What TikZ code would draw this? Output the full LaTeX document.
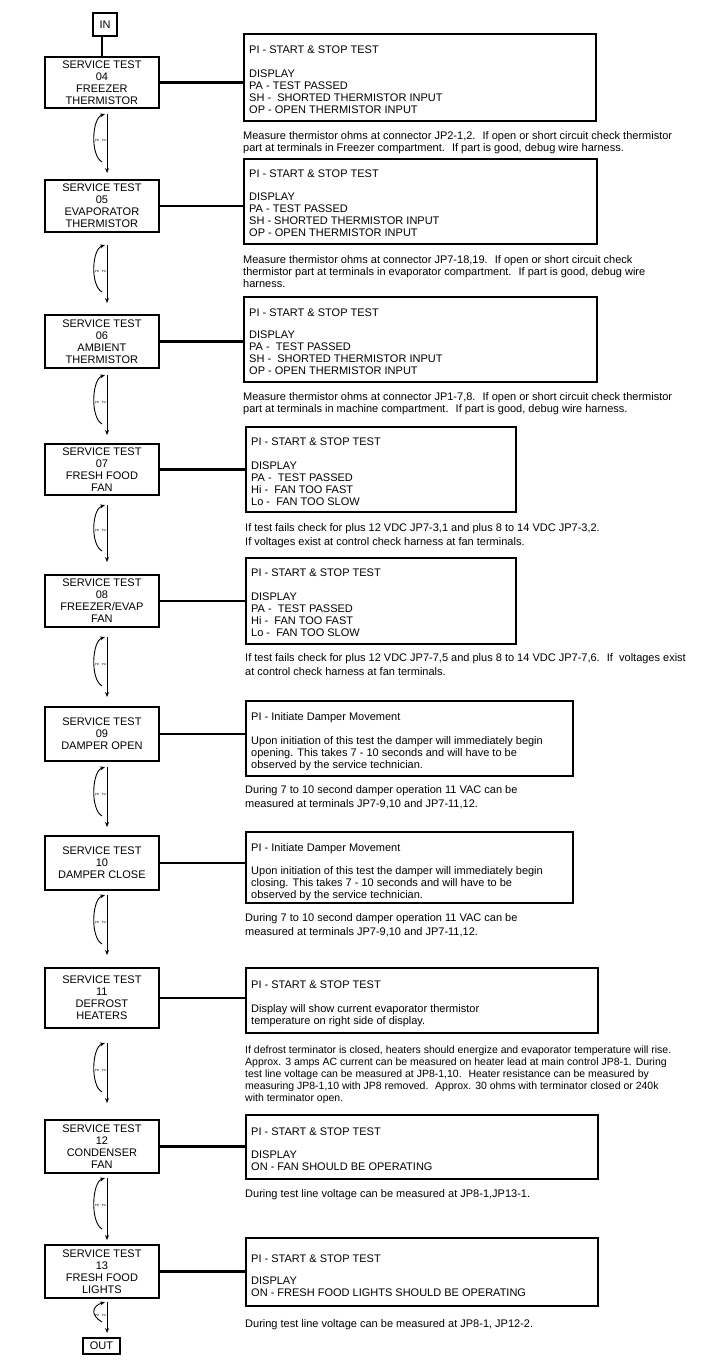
\documentclass[tikz,border=0pt]{standalone}
\usepackage{fontspec}
\setmainfont{Liberation Sans}
\usetikzlibrary{arrows.meta,calc}
\tikzset{
  stbox/.style={draw, line width=1.8pt, minimum width=114pt, inner sep=0pt, align=center,
    font=\fontsize{11}{12}\selectfont, anchor=north west},
  rbx/.style={draw, line width=1.8pt, inner sep=0pt, anchor=north west},
  txt/.style={inner sep=0pt, anchor=north west, align=left, font=\fontsize{11}{12}\selectfont},
  txtw/.style={inner sep=0pt, anchor=north west, align=left, font=\fontsize{11}{14}\selectfont},
  txtn/.style={inner sep=0pt, anchor=north west, align=left, font=\fontsize{10.5}{12}\selectfont},
  con/.style={line width=2.2pt},
  arr/.style={line width=0.9pt, -{Stealth[length=5pt,width=4pt]}},
  tinyl/.style={font=\fontsize{3}{3}\selectfont, inner sep=0pt},
  term/.style={draw, line width=2pt, inner sep=0pt, font=\fontsize{11}{12}\selectfont}
}
\newcommand\rbox[7]{%
  \node[rbx, minimum width=#4pt, minimum height=#5pt] (#1) at (#2,#3) {};
  \node[txt] (#1t) at ($(#1.north west)+(6,#6-10)$) {\rule{0pt}{10pt}#7};
}
\newcommand\updn[3]{%
  \coordinate (#1a) at (107,#2);
  \coordinate (#1b) at (107,#3);
  \draw[arr] (#1a) -- (#1b);
  \draw[arr] ($(#1b)+(-5,-11)$) .. controls ($(#1b)+(-17,-18)$) and ($(#1a)+(-15,4)$) .. ($(#1a)+(-2,0)$);
  \node[tinyl] (#1l) at ($(#1a)!0.45!(#1b)+(-10,0)$) {PD};
  \node[tinyl] (#1r) at ($(#1a)!0.45!(#1b)+(-3,0)$) {PU};
}
\begin{document}
\begin{tikzpicture}[x=1pt,y=-1pt]
\useasboundingbox[fill=white] (0,0) rectangle (711,1368);

% terminals
\node[term, minimum width=24pt, minimum height=23pt] (in) at (105,24.5) {IN};
\node[term, minimum width=37pt, minimum height=16pt] (out) at (101.5,1345.5) {OUT};

% service test boxes
\node[stbox, minimum height=51pt] (st04) at (44,56) {SERVICE TEST\\04\\FREEZER\\THERMISTOR};
\node[stbox, minimum height=52pt] (st05) at (44,179) {SERVICE TEST\\05\\EVAPORATOR\\THERMISTOR};
\node[stbox, minimum height=53pt] (st06) at (44,314) {SERVICE TEST\\06\\AMBIENT\\THERMISTOR};
\node[stbox, minimum height=51pt] (st07) at (44,443) {SERVICE TEST\\07\\FRESH FOOD\\FAN};
\node[stbox, minimum height=52pt] (st08) at (44,574) {SERVICE TEST\\08\\FREEZER/EVAP\\FAN};
\node[stbox, minimum height=54pt] (st09) at (44,706) {SERVICE TEST\\09\\DAMPER OPEN};
\node[stbox, minimum height=54pt] (st10) at (44,835) {SERVICE TEST\\10\\DAMPER CLOSE};
\node[stbox, minimum height=60pt] (st11) at (44,967) {SERVICE TEST\\11\\DEFROST\\HEATERS};
\node[stbox, minimum height=53pt] (st12) at (44,1119) {SERVICE TEST\\12\\CONDENSER\\FAN};
\node[stbox, minimum height=53pt] (st13) at (44,1244) {SERVICE TEST\\13\\FRESH FOOD\\LIGHTS};

% right boxes
\rbox{b1}{243}{33}{352}{87}{20}{PI - START \& STOP TEST\\[12pt]DISPLAY\\PA - TEST PASSED\\SH -~ SHORTED THERMISTOR INPUT\\OP - OPEN THERMISTOR INPUT}
\rbox{b2}{243}{158}{353}{85}{19}{PI - START \& STOP TEST\\[11pt]DISPLAY\\PA - TEST PASSED\\SH - SHORTED THERMISTOR INPUT\\OP - OPEN THERMISTOR INPUT}
\rbox{b3}{243}{296}{353}{85}{20}{PI - START \& STOP TEST\\[10pt]DISPLAY\\PA -~ TEST PASSED\\SH -~ SHORTED THERMISTOR INPUT\\OP - OPEN THERMISTOR INPUT}
\rbox{b4}{245}{426}{270}{85}{19}{PI - START \& STOP TEST\\[12pt]DISPLAY\\PA -~ TEST PASSED\\Hi -~ FAN TOO FAST\\Lo -~ FAN TOO SLOW}
\rbox{b5}{245}{557}{270}{86}{19}{PI - START \& STOP TEST\\[12pt]DISPLAY\\PA -~ TEST PASSED\\Hi -~ FAN TOO FAST\\Lo -~ FAN TOO SLOW}
\rbox{b6}{245}{700}{327}{75}{20}{PI - Initiate Damper Movement\\[12pt]Upon initiation of this test the damper will immediately begin\\opening. This takes 7 - 10 seconds and will have to be\\observed by the service technician.}
\rbox{b7}{245}{831}{327}{71}{20}{PI - Initiate Damper Movement\\[11pt]Upon initiation of this test the damper will immediately begin\\closing. This takes 7 - 10 seconds and will have to be\\observed by the service technician.}
\rbox{b8}{245}{967}{352}{65}{21}{PI - START \& STOP TEST\\[12pt]Display will show current evaporator thermistor\\temperature on right side of display.}
\rbox{b9}{245}{1114}{352}{64}{21}{PI - START \& STOP TEST\\[11pt]DISPLAY\\ON - FAN SHOULD BE OPERATING}
\rbox{b10}{245}{1237}{352}{68}{25}{PI - START \& STOP TEST\\[10pt]DISPLAY\\ON - FRESH FOOD LIGHTS SHOULD BE OPERATING}

% notes
\node[txt] (n1) at (243,129) {\rule{0pt}{10pt}Measure thermistor ohms at connector JP2-1,2.~ If open or short circuit check thermistor\\part at terminals in Freezer compartment.~ If part is good, debug wire harness.};
\node[txt] (n2) at (243,253) {\rule{0pt}{10pt}Measure thermistor ohms at connector JP7-18,19.~ If open or short circuit check\\thermistor part at terminals in evaporator compartment.~ If part is good, debug wire\\harness.};
\node[txt] (n3) at (243,390) {\rule{0pt}{10pt}Measure thermistor ohms at connector JP1-7,8.~ If open or short circuit check thermistor\\part at terminals in machine compartment.~ If part is good, debug wire harness.};
\node[txtw] (n4) at (245,521) {\rule{0pt}{10pt}If test fails check for plus 12 VDC JP7-3,1 and plus 8 to 14 VDC JP7-3,2.\\If voltages exist at control check harness at fan terminals.};
\node[txtw] (n5) at (245,651) {\rule{0pt}{10pt}If test fails check for plus 12 VDC JP7-7,5 and plus 8 to 14 VDC JP7-7,6.~ If~ voltages exist\\at control check harness at fan terminals.};
\node[txtw] (n6) at (245,783) {\rule{0pt}{10pt}During 7 to 10 second damper operation 11 VAC can be\\measured at terminals JP7-9,10 and JP7-11,12.};
\node[txtw] (n7) at (245,911) {\rule{0pt}{10pt}During 7 to 10 second damper operation 11 VAC can be\\measured at terminals JP7-9,10 and JP7-11,12.};
\node[txtn] (n8) at (245,1043) {\rule{0pt}{10pt}If defrost terminator is closed, heaters should energize and evaporator temperature will rise.\\Approx. 3 amps AC current can be measured on heater lead at main control JP8-1. During\\test line voltage can be measured at JP8-1,10.~ Heater resistance can be measured by\\measuring JP8-1,10 with JP8 removed.~ Approx. 30 ohms with terminator closed or 240k\\with terminator open.};
\node[txt] (n9) at (245,1187) {\rule{0pt}{10pt}During test line voltage can be measured at JP8-1,JP13-1.};
\node[txt] (n10) at (245,1317) {\rule{0pt}{10pt}During test line voltage can be measured at JP8-1, JP12-2.};

% connectors
\draw[con] (st04.north |- in.south) -- (st04.north);
\foreach \s/\b in {st04/b1,st05/b2,st06/b3,st07/b4,st08/b5,st09/b6,st10/b7,st11/b8,st12/b9,st13/b10}
  \draw[con] (\s.east) -- (\s.east -| \b.west);

% up/down loops
\updn{l1}{114}{173}
\updn{l2}{245}{303}
\updn{l3}{375}{435}
\updn{l4}{505}{562}
\updn{l5}{637}{697}
\updn{l6}{767}{827}
\updn{l7}{895}{955}
\updn{l8}{1043}{1103}
\updn{l9}{1178}{1240}
\updn{l10}{1302}{1333}
\end{tikzpicture}
\end{document}
